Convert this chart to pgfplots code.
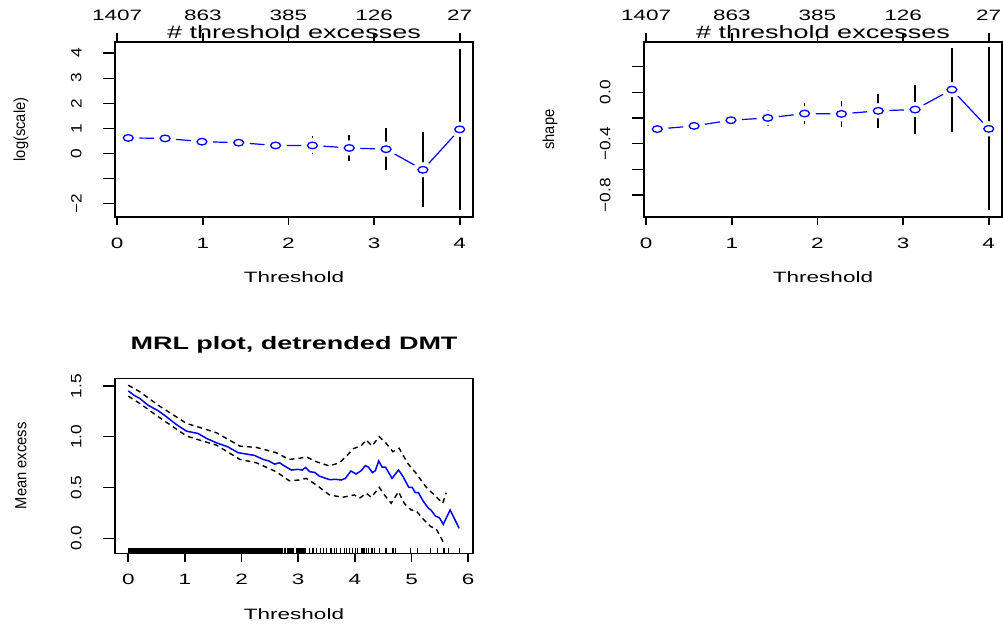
\documentclass[border=0pt]{standalone}
\usepackage{fontspec}
\setmainfont{Liberation Sans}
\newfontfamily\hfont[FakeStretch=1.5]{Liberation Sans}
\newfontfamily\vfont[FakeStretch=0.92]{Liberation Sans}
\newfontfamily\tfont[FakeStretch=1.15]{Liberation Sans}
\usepackage{pgfplots}
\pgfplotsset{compat=1.18}
\usepackage{pgfplotstable}

\pgfplotstableread{
u v e
0.13 0.62 0.10
0.56 0.60 0.12
0.99 0.47 0.18
1.42 0.43 0.20
1.85 0.32 0.25
2.28 0.32 0.36
2.71 0.22 0.53
3.14 0.17 0.83
3.57 -0.65 1.50
4.00 0.96 3.22
}\scaleTab

\pgfplotstableread{
u v e
0.13 -0.287 0.025
0.56 -0.262 0.040
0.99 -0.218 0.050
1.42 -0.200 0.062
1.85 -0.166 0.080
2.28 -0.169 0.100
2.71 -0.145 0.130
3.14 -0.135 0.190
3.57 0.020 0.326
4.00 -0.285 0.633
}\shapeTab

\pgfplotstableread{
x y
0 1.452
0.1 1.41
0.205 1.377
0.35 1.31
0.53 1.256
0.675 1.197
0.85 1.12
1.03 1.055
1.23 1.033
1.38 0.984
1.555 0.941
1.76 0.90
1.94 0.843
2.08 0.83
2.23 0.816
2.38 0.777
2.49 0.76
2.58 0.73
2.67 0.744
2.76 0.711
2.88 0.672
2.99 0.679
3.07 0.672
3.13 0.698
3.20 0.656
3.29 0.649
3.37 0.613
3.55 0.578
3.67 0.58
3.76 0.574
3.83 0.59
3.93 0.663
4.02 0.633
4.11 0.666
4.185 0.716
4.24 0.70
4.31 0.646
4.36 0.666
4.42 0.762
4.48 0.70
4.54 0.70
4.655 0.591
4.77 0.673
4.85 0.607
4.95 0.502
5.01 0.502
5.065 0.45
5.12 0.45
5.21 0.361
5.30 0.295
5.34 0.279
5.42 0.22
5.49 0.203
5.56 0.138
5.68 0.279
5.84 0.098
}\mrlTab

\pgfplotstableread{
x y
0 1.508
0.205 1.443
0.53 1.31
1.03 1.131
1.26 1.092
1.555 1.04
1.97 0.908
2.26 0.895
2.61 0.843
2.84 0.777
3.02 0.787
3.14 0.803
3.32 0.754
3.55 0.712
3.73 0.745
3.87 0.82
3.96 0.88
4.11 0.912
4.20 0.968
4.30 0.909
4.43 1.001
4.55 0.936
4.67 0.853
4.78 0.887
4.93 0.739
5.08 0.64
5.25 0.508
5.40 0.427
5.55 0.345
5.61 0.449
}\upTab

\pgfplotstableread{
x y
0 1.40
0.205 1.328
0.53 1.197
1.03 1.007
1.26 0.967
1.555 0.918
1.97 0.777
2.26 0.744
2.61 0.656
2.84 0.567
3.02 0.574
3.14 0.59
3.32 0.525
3.55 0.427
3.785 0.404
3.99 0.427
4.08 0.394
4.20 0.443
4.29 0.404
4.43 0.502
4.52 0.427
4.64 0.345
4.77 0.459
4.87 0.345
4.99 0.279
5.08 0.272
5.19 0.197
5.34 0.114
5.43 0.098
5.58 -0.06
}\loTab

\pgfplotsset{
  every axis title shift=0pt,
  rpanel/.style={
    scale only axis, width=358pt, height=175pt, anchor=south west,
    axis line style={line width=1.4pt, black},
    tick align=outside,
    xtick pos=lower, ytick pos=left,
    xtick style={line width=1.8pt, black, /pgfplots/major tick length=8.5pt},
    ytick style={line width=1.3pt, black, /pgfplots/major tick length=12pt},
    xticklabel style={font=\hfont\fontsize{15}{15}\selectfont, anchor=base, inner sep=0pt, yshift=-27pt},
    yticklabel style={font=\tfont\fontsize{15}{15}\selectfont, xshift=-29pt, rotate=90, anchor=south, inner sep=0pt},
    xlabel style={at={(axis description cs:0.5,-0.377)}, anchor=base, inner sep=0pt, font=\hfont\fontsize{15}{15}\selectfont},
    ylabel style={at={(axis description cs:-0.2626,0.5)}, anchor=center, inner sep=0pt, font=\vfont\fontsize{16}{16}\selectfont},
  },
  topaxis/.style={
    scale only axis, width=358pt, height=175pt, anchor=south west,
    xmin=-0.025, xmax=4.155, ymin=0, ymax=1,
    axis x line*=top, axis y line=none,
    axis line style={line width=1.4pt, black, -},
    tick align=outside,
    xtick={0,1,2,3,4}, xticklabels={1407,863,385,126,27},
    xtick style={line width=1.8pt, black, /pgfplots/major tick length=9pt},
    xticklabel style={font=\hfont\fontsize{15}{15}\selectfont, anchor=base, inner sep=0pt, yshift=17pt},
    xlabel={\# threshold excesses},
    xlabel style={at={(axis description cs:0.5,1)}, anchor=base, inner sep=0pt, yshift=3.7pt, font=\hfont\fontsize{18}{18}\selectfont},
  },
  halo/.style={only marks, mark=*, mark size=7.3pt, color=white, mark options={draw=white, fill=white, xscale=1.5}},
  bars/.style={draw=none, error bars/.cd, y dir=both, y explicit, error mark=none,
    error bar style={draw=black, solid, line width=1.8pt}},
  circ/.style={only marks, mark=o, mark size=3.3pt, color=blue, mark options={draw=blue, fill=none, line width=1.3pt, xscale=1.5}},
}

\begin{document}
\begin{tikzpicture}
\path[use as bounding box] (0,0) rectangle (1003pt,626pt);

% ---------- top-left: log(scale)
\begin{axis}[rpanel, at={(115pt,409pt)},
  xmin=-0.025, xmax=4.155, ymin=-2.53, ymax=4.44,
  xtick={0,1,2,3,4}, xticklabels={0,1,2,3,4},
  ytick={-2,-1,0,1,2,3,4}, yticklabels={−2,,0,1,2,3,4},
  xlabel={Threshold}, ylabel={log(scale)}]
\addplot[blue, line width=1.2pt] table[x=u, y=v] {\scaleTab};
\addplot[halo] table[x=u, y=v] {\scaleTab};
\addplot[bars] table[x=u, y=v, y error=e] {\scaleTab};
\addplot[circ] table[x=u, y=v] {\scaleTab};
\end{axis}
\begin{axis}[topaxis, at={(115pt,409pt)}]
\addplot[draw=none, forget plot] coordinates {(0,0)};
\end{axis}

% ---------- top-right: shape
\begin{axis}[rpanel, at={(644pt,409pt)},
  xmin=-0.025, xmax=4.155, ymin=-0.97, ymax=0.39,
  xtick={0,1,2,3,4}, xticklabels={0,1,2,3,4},
  ytick={-0.8,-0.6,-0.4,-0.2,0,0.2}, yticklabels={−0.8,,−0.4,,0.0,},
  xlabel={Threshold}, ylabel={shape}]
\addplot[blue, line width=1.2pt] table[x=u, y=v] {\shapeTab};
\addplot[halo] table[x=u, y=v] {\shapeTab};
\addplot[bars] table[x=u, y=v, y error=e] {\shapeTab};
\addplot[circ] table[x=u, y=v] {\shapeTab};
\end{axis}
\begin{axis}[topaxis, at={(644pt,409pt)}]
\addplot[draw=none, forget plot] coordinates {(0,0)};
\end{axis}

% ---------- bottom: MRL plot
\begin{axis}[rpanel, at={(115pt,72.7pt)},
  xmin=-0.234, xmax=6.084, ymin=-0.148, ymax=1.576,
  xtick={0,1,2,3,4,5,6}, xticklabels={0,1,2,3,4,5,6},
  ytick={0,0.5,1,1.5}, yticklabels={0.0,0.5,1.0,1.5},
  xlabel={Threshold}, ylabel={Mean excess},
  title={MRL plot, detrended DMT},
  title style={at={(axis description cs:0.5,1.167)}, anchor=base, inner sep=0pt, font=\hfont\bfseries\fontsize{18}{18}\selectfont}]
\addplot[black, line width=1.4pt, dash pattern=on 5pt off 4pt] table[x=x, y=y] {\upTab};
\addplot[black, line width=1.4pt, dash pattern=on 5pt off 4pt] table[x=x, y=y] {\loTab};
\addplot[blue, line width=1.5pt] table[x=x, y=y] {\mrlTab};
\addplot[only marks, mark=|, mark size=2.5pt, color=black, mark options={line width=1.3pt, black}] coordinates {
(0.00,-0.1234)(0.02,-0.1234)(0.04,-0.1234)(0.06,-0.1234)(0.08,-0.1234)(0.10,-0.1234)(0.12,-0.1234)(0.14,-0.1234)(0.16,-0.1234)(0.18,-0.1234)
(0.20,-0.1234)(0.22,-0.1234)(0.24,-0.1234)(0.26,-0.1234)(0.28,-0.1234)(0.30,-0.1234)(0.32,-0.1234)(0.34,-0.1234)(0.36,-0.1234)(0.38,-0.1234)
(0.40,-0.1234)(0.42,-0.1234)(0.44,-0.1234)(0.46,-0.1234)(0.48,-0.1234)(0.50,-0.1234)(0.52,-0.1234)(0.54,-0.1234)(0.56,-0.1234)(0.58,-0.1234)
(0.60,-0.1234)(0.62,-0.1234)(0.64,-0.1234)(0.66,-0.1234)(0.68,-0.1234)(0.70,-0.1234)(0.72,-0.1234)(0.74,-0.1234)(0.76,-0.1234)(0.78,-0.1234)
(0.80,-0.1234)(0.82,-0.1234)(0.84,-0.1234)(0.86,-0.1234)(0.88,-0.1234)(0.90,-0.1234)(0.92,-0.1234)(0.94,-0.1234)(0.96,-0.1234)(0.98,-0.1234)
(1.00,-0.1234)(1.02,-0.1234)(1.04,-0.1234)(1.06,-0.1234)(1.08,-0.1234)(1.10,-0.1234)(1.12,-0.1234)(1.14,-0.1234)(1.16,-0.1234)(1.18,-0.1234)
(1.20,-0.1234)(1.22,-0.1234)(1.24,-0.1234)(1.26,-0.1234)(1.28,-0.1234)(1.30,-0.1234)(1.32,-0.1234)(1.34,-0.1234)(1.36,-0.1234)(1.38,-0.1234)
(1.40,-0.1234)(1.42,-0.1234)(1.44,-0.1234)(1.46,-0.1234)(1.48,-0.1234)(1.50,-0.1234)(1.52,-0.1234)(1.54,-0.1234)(1.56,-0.1234)(1.58,-0.1234)
(1.60,-0.1234)(1.62,-0.1234)(1.64,-0.1234)(1.66,-0.1234)(1.68,-0.1234)(1.70,-0.1234)(1.72,-0.1234)(1.74,-0.1234)(1.76,-0.1234)(1.78,-0.1234)
(1.80,-0.1234)(1.82,-0.1234)(1.84,-0.1234)(1.86,-0.1234)(1.88,-0.1234)(1.90,-0.1234)(1.92,-0.1234)(1.94,-0.1234)(1.96,-0.1234)(1.98,-0.1234)
(2.00,-0.1234)(2.02,-0.1234)(2.04,-0.1234)(2.06,-0.1234)(2.08,-0.1234)(2.10,-0.1234)(2.12,-0.1234)(2.14,-0.1234)(2.16,-0.1234)(2.18,-0.1234)
(2.20,-0.1234)(2.22,-0.1234)(2.24,-0.1234)(2.26,-0.1234)(2.28,-0.1234)(2.30,-0.1234)(2.32,-0.1234)(2.34,-0.1234)(2.36,-0.1234)(2.38,-0.1234)
(2.40,-0.1234)(2.42,-0.1234)(2.44,-0.1234)(2.46,-0.1234)(2.48,-0.1234)(2.50,-0.1234)(2.52,-0.1234)(2.54,-0.1234)(2.56,-0.1234)(2.58,-0.1234)
(2.60,-0.1234)(2.62,-0.1234)(2.64,-0.1234)(2.66,-0.1234)(2.68,-0.1234)(2.70,-0.1234)(2.72,-0.1234)(2.76,-0.1234)(2.78,-0.1234)(2.82,-0.1234)
(2.84,-0.1234)(2.86,-0.1234)(2.88,-0.1234)(2.90,-0.1234)(2.92,-0.1234)(2.98,-0.1234)(3.00,-0.1234)(3.02,-0.1234)(3.04,-0.1234)(3.06,-0.1234)
(3.08,-0.1234)(3.10,-0.1234)(3.12,-0.1234)(3.20,-0.1234)(3.26,-0.1234)(3.32,-0.1234)(3.39,-0.1234)(3.44,-0.1234)(3.50,-0.1234)(3.58,-0.1234)
(3.64,-0.1234)(3.68,-0.1234)(3.75,-0.1234)(3.81,-0.1234)(3.85,-0.1234)(3.90,-0.1234)(3.96,-0.1234)(4.01,-0.1234)(4.05,-0.1234)(4.11,-0.1234)
(4.14,-0.1234)(4.17,-0.1234)(4.21,-0.1234)(4.24,-0.1234)(4.29,-0.1234)(4.31,-0.1234)(4.34,-0.1234)(4.43,-0.1234)(4.55,-0.1234)(4.67,-0.1234)
(4.72,-0.1234)(4.98,-0.1234)(5.10,-0.1234)(5.34,-0.1234)(5.46,-0.1234)(5.57,-0.1234)(5.65,-0.1234)(5.84,-0.1234)
};
\end{axis}
\end{tikzpicture}
\end{document}
